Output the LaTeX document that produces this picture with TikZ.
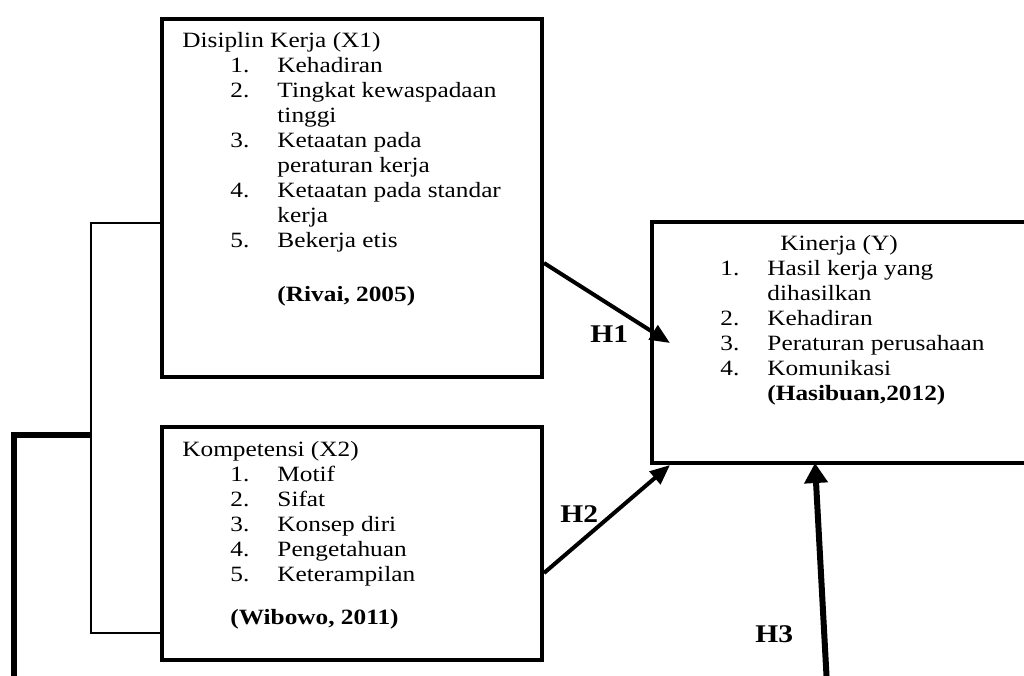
\documentclass[tikz,border=0pt]{standalone}
\usepackage{fontspec}
\setmainfont{Liberation Serif}[FakeStretch=1.16]
\usetikzlibrary{arrows.meta,calc}
\begin{document}
\begin{tikzpicture}[x=0.55pt, y=-0.55pt, >={Triangle[length=11pt,width=9pt]},
		font=\fontsize{12pt}{13.75pt}\selectfont,
		box/.style={draw, line width=2.2pt, rectangle, anchor=north west, inner sep=0pt},
		txt/.style={anchor=base west, inner sep=0pt, align=left},
		hyp/.style={font=\fontsize{14pt}{16pt}\selectfont\bfseries, inner sep=0pt, anchor=base west},
		arr/.style={->, line width=2.2pt}]
	\useasboundingbox (0,0) rectangle (1024,675);
	\clip (0,0) rectangle (1024,675);
	% kotak variabel
	\node[box, minimum width=209pt, minimum height=196.9pt] (x1) at (160,17) {};
	\node[box, minimum width=209pt, minimum height=128.15pt] (x2) at (160,425) {};
	\node[box, minimum width=220pt, minimum height=132.55pt] (y) at (650,220) {};
	% isi kotak
	\node[txt] (x1txt) at (182,47) {\begin{tabular}[t]{@{}p{26.4pt}@{}p{25.9pt}@{}l@{}}
			\multicolumn{3}{@{}l@{}}{Disiplin Kerja (X1)}\\
			& 1. & Kehadiran\\
			& 2. & Tingkat kewaspadaan\\
			& & tinggi\\
			& 3. & Ketaatan pada\\
			& & peraturan kerja\\
			& 4. & Ketaatan pada standar\\
			& & kerja\\
			& 5. & Bekerja etis\\[16pt]
			& & \textbf{(Rivai, 2005)}
		\end{tabular}};
	\node[txt] (x2txt) at (182,456) {\begin{tabular}[t]{@{}p{26.4pt}@{}p{25.9pt}@{}l@{}}
			\multicolumn{3}{@{}l@{}}{Kompetensi (X2)}\\
			& 1. & Motif\\
			& 2. & Sifat\\
			& 3. & Konsep diri\\
			& 4. & Pengetahuan\\
			& 5. & Keterampilan\\[10pt]
			& \multicolumn{2}{@{}l@{}}{\textbf{(Wibowo, 2011)}}
		\end{tabular}};
	\node[txt] (ytxt) at (720,250) {\begin{tabular}[t]{@{}p{25.9pt}@{}l@{}}
			\multicolumn{2}{@{}l@{}}{\hspace{33pt}Kinerja (Y)}\\
			1. & Hasil kerja yang\\
			& dihasilkan\\
			2. & Kehadiran\\
			3. & Peraturan perusahaan\\
			4. & Komunikasi\\
			& \textbf{(Hasibuan,2012)}
		\end{tabular}};
	% garis kiri
	\coordinate (b1) at ($(x1.north west)+(0,206)$);
	\coordinate (b2) at ($(x2.north west)+(0,208)$);
	\draw[line width=0.8pt] (b1) -- ++(-69,0) |- (b2);
	\coordinate (jn) at (91,435);
	\coordinate (low) at (14,685);
	\draw[line width=3.5pt] (jn) -| (low);
	% hipotesis
	\coordinate (h1a) at ($(x1.north east)+(0,246)$);
	\coordinate (h1b) at ($(y.north west)+(20,123)$);
	\coordinate (h2a) at ($(x2.north east)+(0,148)$);
	\coordinate (h3a) at (827,685);
	\draw[arr] (h1a) -- (h1b);
	\draw[arr] (h2a) -- ($(y.south west)+(20,0)$);
	\draw[->, line width=3.3pt, >={Triangle[length=11pt,width=12.5pt]}] (h3a) -- ($(y.south west)+(165,-2)$);
	\node[hyp] (lh1) at (590,342) {H1};
	\node[hyp] (lh2) at (560,522) {H2};
	\node[hyp] (lh3) at (755,642) {H3};
\end{tikzpicture}
\end{document}
